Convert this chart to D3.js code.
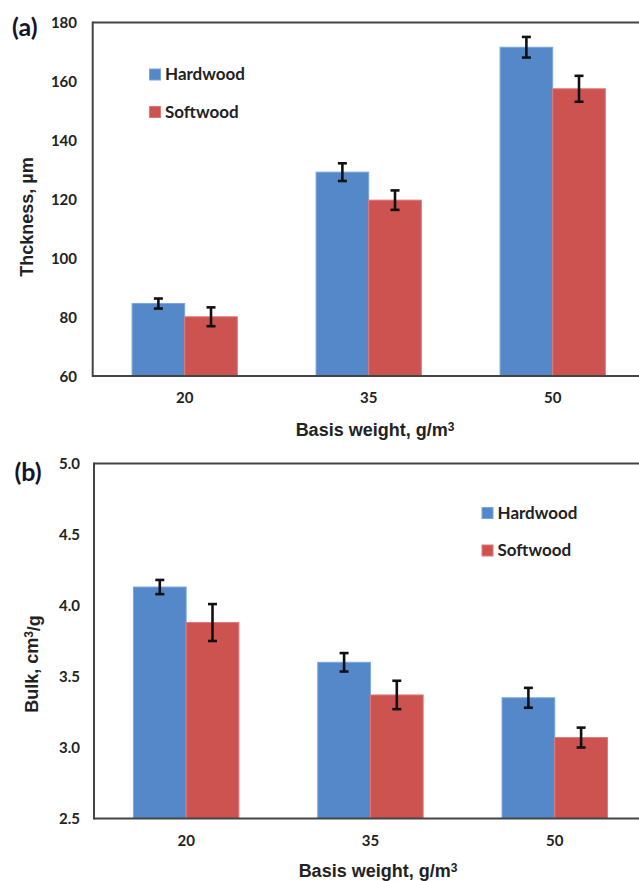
<!DOCTYPE html>
<html><head><meta charset="utf-8">
<script src="https://cdn.jsdelivr.net/npm/d3@7"></script>
<style>
html,body{margin:0;padding:0;background:#fff;}
svg{display:block;}
.tick text{font-family:Lato,"Open Sans",sans-serif;font-weight:700;font-size:15px;fill:#222;}
</style></head>
<body>
<svg id="chart" width="639" height="881"></svg>
<script>
// ---- data ----
const categories = ["20", "35", "50"];
const seriesNames = ["Hardwood", "Softwood"];
const thicknessHardwood = [84.6, 129.2, 171.6];
const thicknessSoftwood = [80.1, 119.7, 157.5];
const thicknessErrHardwood = [1.7, 3.0, 3.5];
const thicknessErrSoftwood = [3.2, 3.3, 4.4];
const bulkHardwood = [4.13, 3.60, 3.35];
const bulkSoftwood = [3.88, 3.37, 3.07];
const bulkErrHardwood = [0.05, 0.065, 0.07];
const bulkErrSoftwood = [0.13, 0.10, 0.07];
const thicknessTicks = [60, 80, 100, 120, 140, 160, 180];
const bulkTicks = [2.5, 3.0, 3.5, 4.0, 4.5, 5.0];
const colors = ["#5488C8", "#CD5351"];
const strokeColors = ["#79A6DE", "#E07876"];

const svg = d3.select("#chart");

function panel(cfg) {
  const g = svg.append("g");
  const x0 = d3.scaleBand().domain(categories).range([cfg.left, cfg.left + 3 * cfg.band]).padding(0);
  const bw = x0.bandwidth();
  const gw = bw * 0.572;
  const x1 = d3.scaleBand().domain(seriesNames).range([(bw - gw) / 2, (bw + gw) / 2]).padding(0);
  const y = d3.scaleLinear().domain(cfg.domain).range([cfg.bottom, cfg.top]);

  const rows = [];
  categories.forEach((c, i) => {
    rows.push({cat: c, s: 0, v: cfg.h[i], e: cfg.he[i]});
    rows.push({cat: c, s: 1, v: cfg.s[i], e: cfg.se[i]});
  });

  // bars
  g.selectAll("rect.bar").data(rows).enter().append("rect")
    .attr("class", "bar")
    .attr("x", d => x0(d.cat) + x1(seriesNames[d.s]))
    .attr("width", x1.bandwidth())
    .attr("y", d => y(d.v))
    .attr("height", d => y(cfg.domain[0]) - y(d.v))
    .attr("fill", d => colors[d.s])
    .attr("stroke", d => strokeColors[d.s])
    .attr("stroke-width", 1);

  // error bars
  const eb = g.selectAll("g.err").data(rows).enter().append("g").attr("class", "err");
  const cx = d => x0(d.cat) + x1(seriesNames[d.s]) + x1.bandwidth() / 2;
  eb.append("line").attr("x1", cx).attr("x2", cx)
    .attr("y1", d => y(d.v + d.e)).attr("y2", d => y(d.v - d.e))
    .attr("stroke", "#111").attr("stroke-width", 2.6);
  [1, -1].forEach(sg => {
    eb.append("line").attr("x1", d => cx(d) - 4.5).attr("x2", d => cx(d) + 4.5)
      .attr("y1", d => y(d.v + sg * d.e)).attr("y2", d => y(d.v + sg * d.e))
      .attr("stroke", "#111").attr("stroke-width", 2.6);
  });

  // frame: left, bottom, top (right edge is outside the picture)
  const right = 639;
  g.append("line").attr("x1", cfg.left).attr("x2", right).attr("y1", y(cfg.domain[1])).attr("y2", y(cfg.domain[1]))
    .attr("stroke", "#444").attr("stroke-width", 2);
  g.append("line").attr("x1", cfg.left).attr("x2", right).attr("y1", y(cfg.domain[0])).attr("y2", y(cfg.domain[0]))
    .attr("stroke", "#444").attr("stroke-width", 2);
  g.append("line").attr("x1", cfg.left).attr("x2", cfg.left).attr("y1", y(cfg.domain[1]) - 1).attr("y2", y(cfg.domain[0]) + 1)
    .attr("stroke", "#444").attr("stroke-width", 2);

  // axes (labels only)
  const ya = d3.axisLeft(y).tickValues(cfg.ticks).tickSize(0).tickPadding(0).tickFormat(cfg.fmt);
  const yg = g.append("g").attr("transform", `translate(${cfg.yLabelX},0)`).call(ya);
  yg.select(".domain").remove();
  yg.selectAll(".tick text").attr("dy", "0.36em");

  const xa = d3.axisBottom(x0).tickSize(0).tickPadding(0);
  const xg = g.append("g").attr("transform", `translate(0,${cfg.xLabelY})`).call(xa);
  xg.select(".domain").remove();
  xg.selectAll(".tick text").attr("dy", "0").attr("y", 0);

  // axis titles
  const xt = g.append("text").attr("x", cfg.xTitleX).attr("y", cfg.xTitleY)
    .attr("text-anchor", "middle")
    .style("font-family", "'Liberation Sans', Arial, sans-serif").style("font-weight", "700").style("font-size", "18px").style("fill", "#222");
  xt.append("tspan").text("Basis weight, g/m");
  xt.append("tspan").attr("dy", "-0.4em").style("font-size", "12px").text("3");
  const yt = g.append("text").attr("transform", `translate(${cfg.yTitleX},${cfg.yTitleY}) rotate(-90)`)
    .attr("text-anchor", "middle")
    .style("font-family", "'Liberation Sans', Arial, sans-serif").style("font-weight", "700").style("font-size", "18px").style("fill", "#222");
  cfg.yTitle(yt);

  // panel letter
  g.append("text").attr("x", cfg.letterX).attr("y", cfg.letterY)
    .style("font-family", "Lato, sans-serif").style("font-weight", "700").style("font-size", "25px").style("fill", "#14142a")
    .text(cfg.letter);

  // legend
  seriesNames.forEach((s, i) => {
    const ly = cfg.legendY + i * 37.5;
    g.append("rect").attr("x", cfg.legendX).attr("y", ly).attr("width", 11).attr("height", 11)
      .attr("fill", colors[i]).attr("stroke", strokeColors[i]).attr("stroke-width", 1);
    g.append("text").attr("x", cfg.legendX + 15.5).attr("y", ly + 11)
      .style("font-family", "Lato, sans-serif").style("font-weight", "700").style("font-size", "17px").style("fill", "#222")
      .text(s);
  });
}

panel({
  left: 92.7, band: 184, top: 22.5, bottom: 376, domain: [60, 180],
  h: thicknessHardwood, s: thicknessSoftwood, he: thicknessErrHardwood, se: thicknessErrSoftwood,
  ticks: thicknessTicks, fmt: d3.format("d"), yLabelX: 77,
  xLabelY: 403, xTitleX: 375, xTitleY: 436,
  yTitleX: 33, yTitleY: 217,
  yTitle: t => t.text("Thckness, µm"),
  letter: "(a)", letterX: 12, letterY: 36,
  legendX: 149.5, legendY: 69
});

panel({
  left: 94, band: 184.3, top: 463.5, bottom: 818.5, domain: [2.5, 5.0],
  h: bulkHardwood, s: bulkSoftwood, he: bulkErrHardwood, se: bulkErrSoftwood,
  ticks: bulkTicks, fmt: d3.format(".1f"), yLabelX: 80,
  xLabelY: 846, xTitleX: 378, xTitleY: 877,
  yTitleX: 38, yTitleY: 664,
  yTitle: t => { t.append("tspan").text("Bulk, cm"); t.append("tspan").attr("dy", "-0.4em").style("font-size", "12px").text("3"); t.append("tspan").attr("dy", "0.4em").text("/g"); },
  letter: "(b)", letterX: 14.5, letterY: 481,
  legendX: 482, legendY: 507.5
});
</script>
</body></html>
